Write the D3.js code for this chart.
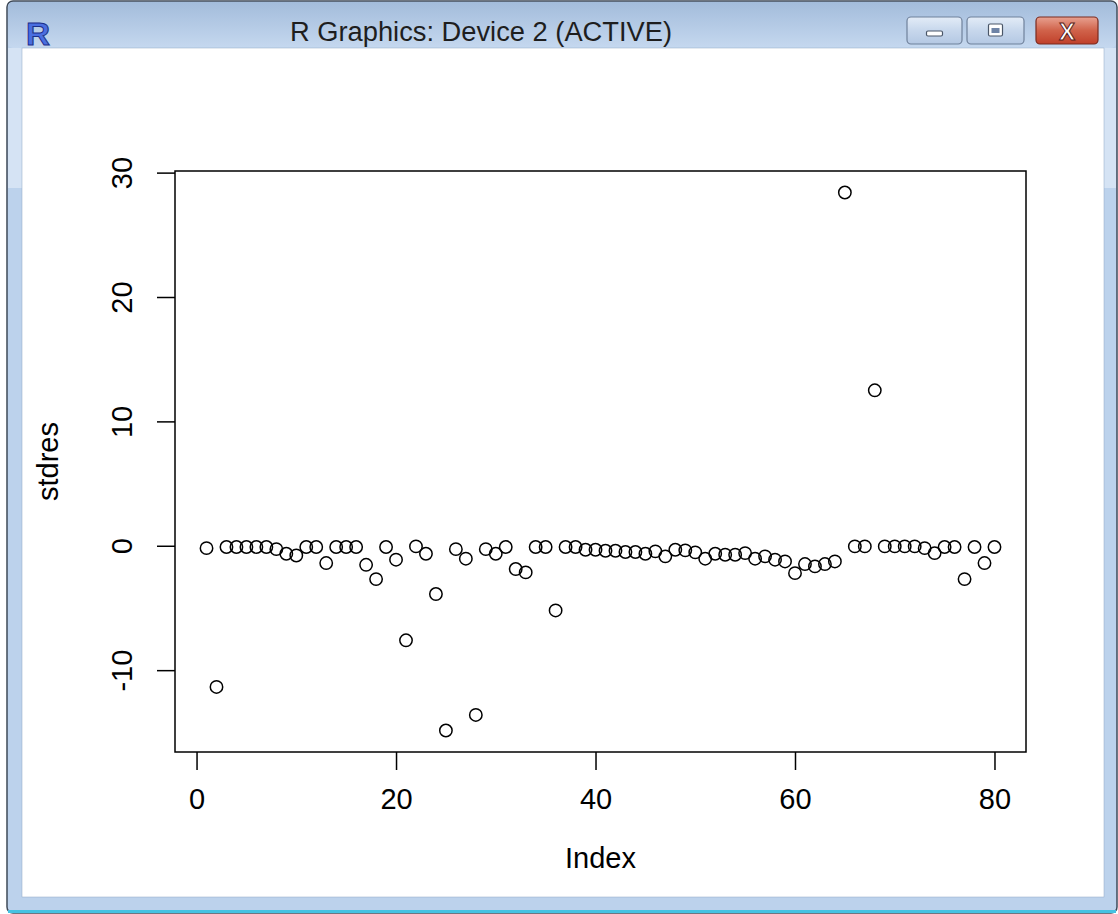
<!DOCTYPE html>
<meta charset="utf-8">
<style>
  body { margin: 0; background: #ffffff; }
  text { font-family: 'Liberation Sans', Arial, sans-serif; }
</style>
<script src="https://d3js.org/d3.v7.min.js"></script>
<body>
<div id="win"></div>
<script>

// observed standardized residuals, index 1..80
var index = d3.range(1, 81)
var stdres = [
  -0.19, -11.35, -0.1, -0.1, -0.1, -0.1, -0.1, -0.27, -0.64, -0.78,
  -0.1, -0.1, -1.39, -0.1, -0.1, -0.1, -1.53, -2.68, -0.1, -1.12,
  -7.6, -0.05, -0.64, -3.88, -14.85, -0.27, -1.04, -13.6, -0.27, -0.64,
  -0.1, -1.87, -2.14, -0.1, -0.1, -5.2, -0.1, -0.1, -0.32, -0.32,
  -0.4, -0.4, -0.5, -0.5, -0.64, -0.45, -0.85, -0.32, -0.37, -0.53,
  -1.04, -0.64, -0.72, -0.72, -0.59, -1.04, -0.85, -1.12, -1.26, -2.2,
  -1.47, -1.66, -1.47, -1.26, 28.4, -0.05, -0.05, 12.5, -0.05, -0.05,
  -0.05, -0.05, -0.19, -0.59, -0.1, -0.1, -2.68, -0.1, -1.39, -0.1
]
var xTicks = [0, 20, 40, 60, 80]
var yTicks = [-10, 0, 10, 20, 30]
var title = "R Graphics: Device 2 (ACTIVE)"

var W = 1118, H = 914
var box = {left: 175, right: 1026, top: 171, bottom: 752}

// R style 4% extension of the data range
function pad(ext) {
  var d = (ext[1] - ext[0]) * 0.04
  return [ext[0] - d, ext[1] + d]
}

var svg = d3.select("#win").append("svg")
    .attr("width", W)
    .attr("height", H)

var defs = svg.append("defs")
var tg = defs.append("linearGradient").attr("id", "titleGrad")
    .attr("x1", 0).attr("y1", 0).attr("x2", 0).attr("y2", 1)
tg.append("stop").attr("offset", "0%").attr("stop-color", "#a3bcdb")
tg.append("stop").attr("offset", "100%").attr("stop-color", "#c5d8ef")

var bg = defs.append("linearGradient").attr("id", "btnGrad")
    .attr("x1", 0).attr("y1", 0).attr("x2", 0).attr("y2", 1)
bg.append("stop").attr("offset", "0%").attr("stop-color", "#e3ecf7")
bg.append("stop").attr("offset", "50%").attr("stop-color", "#c7d7ec")
bg.append("stop").attr("offset", "100%").attr("stop-color", "#b4c8e3")

var cg = defs.append("linearGradient").attr("id", "closeGrad")
    .attr("x1", 0).attr("y1", 0).attr("x2", 0).attr("y2", 1)
cg.append("stop").attr("offset", "0%").attr("stop-color", "#e8a190")
cg.append("stop").attr("offset", "50%").attr("stop-color", "#d0624a")
cg.append("stop").attr("offset", "100%").attr("stop-color", "#c0402a")

// window frame
svg.append("rect")
    .attr("x", 7).attr("y", 1)
    .attr("width", 1110).attr("height", 912)
    .attr("rx", 6)
    .attr("fill", "#bcd2ec")
    .attr("stroke", "#3f4a58")
    .attr("stroke-width", 1.5)

svg.append("rect")
    .attr("x", 8).attr("y", 2)
    .attr("width", 1108).attr("height", 46)
    .attr("rx", 5)
    .attr("fill", "url(#titleGrad)")

// lighter upper part of the side strips
svg.append("rect").attr("x", 8).attr("y", 48).attr("width", 14).attr("height", 140).attr("fill", "#d5e3f4")
svg.append("rect").attr("x", 1104).attr("y", 48).attr("width", 12).attr("height", 140).attr("fill", "#d5e3f4")

svg.append("rect")
    .attr("x", 8).attr("y", 910)
    .attr("width", 1108).attr("height", 3)
    .attr("fill", "#45c2e2")

// client area
svg.append("rect")
    .attr("x", 22).attr("y", 48)
    .attr("width", 1082).attr("height", 849)
    .attr("fill", "#ffffff")
    .attr("stroke", "#8ea6c4")
    .attr("stroke-width", 0.5)

// R icon
svg.append("text")
    .attr("x", 26).attr("y", 45)
    .attr("font-size", 32)
    .attr("font-weight", "bold")
    .attr("fill", "#4a6ee0")
    .attr("stroke", "#1b2f8a")
    .attr("stroke-width", 1)
    .attr("textLength", 24)
    .attr("lengthAdjust", "spacingAndGlyphs")
    .text("R")

svg.append("text")
    .attr("x", 290).attr("y", 41)
    .attr("font-size", 27)
    .attr("textLength", 382)
    .attr("lengthAdjust", "spacingAndGlyphs")
    .attr("fill", "#1e1e1e")
    .text(title)

// caption buttons
var btns = [
  {x: 907, w: 55, kind: "min"},
  {x: 967, w: 57, kind: "max"},
  {x: 1036, w: 62, kind: "close"}
]
btns.forEach(function(b) {
  svg.append("rect")
    .attr("x", b.x).attr("y", 17)
    .attr("width", b.w).attr("height", 27)
    .attr("rx", 4)
    .attr("fill", b.kind == "close" ? "url(#closeGrad)" : "url(#btnGrad)")
    .attr("stroke", b.kind == "close" ? "#7a2a1e" : "#6f819b")
    .attr("stroke-width", 1.2)
  var cx = b.x + b.w / 2
  if (b.kind == "min") {
    svg.append("rect").attr("x", cx - 8).attr("y", 31).attr("width", 16).attr("height", 5)
      .attr("rx", 1.5).attr("fill", "#ffffff").attr("stroke", "#4a5668").attr("stroke-width", 1.2)
  } else if (b.kind == "max") {
    svg.append("rect").attr("x", cx - 7).attr("y", 24).attr("width", 14).attr("height", 12)
      .attr("rx", 1.5).attr("fill", "#ffffff").attr("stroke", "#4a5668").attr("stroke-width", 1.2)
    svg.append("rect").attr("x", cx - 4).attr("y", 28).attr("width", 8).attr("height", 5)
      .attr("fill", "#6f84a6")
  } else {
    svg.append("text").attr("x", cx).attr("y", 40)
      .attr("text-anchor", "middle")
      .attr("font-size", 24).attr("font-weight", "bold")
      .attr("fill", "#ffffff").attr("stroke", "#5a2018").attr("stroke-width", 1)
      .text("X")
  }
})

// scales
var x = d3.scaleLinear()
    .domain(pad(d3.extent(index)))
    .range([box.left, box.right])

var y = d3.scaleLinear()
    .domain(pad(d3.extent(stdres)))
    .range([box.bottom, box.top])

var fmt = function(d) { return String(d) }

// x axis
var xAxis = svg.append("g")
    .attr("transform", "translate(0," + box.bottom + ")")
    .call(d3.axisBottom(x).tickValues(xTicks).tickFormat(fmt).tickSize(18).tickPadding(18))
xAxis.select(".domain").remove()
xAxis.selectAll(".tick line").attr("stroke", "#000").attr("stroke-width", 1.5)
xAxis.selectAll(".tick text")
    .attr("font-size", 29)
    .attr("font-family", "'Liberation Sans', Arial, sans-serif")
    .attr("fill", "#000")

// y axis with labels parallel to axis
var yAxis = svg.append("g")
    .attr("transform", "translate(" + box.left + ",0)")
    .call(d3.axisLeft(y).tickValues(yTicks).tickFormat(fmt).tickSize(18))
yAxis.select(".domain").remove()
yAxis.selectAll(".tick line").attr("stroke", "#000").attr("stroke-width", 1.5)
yAxis.selectAll(".tick text")
    .attr("x", null).attr("dy", null)
    .attr("font-size", 29)
    .attr("font-family", "'Liberation Sans', Arial, sans-serif")
    .attr("fill", "#000")
    .attr("text-anchor", "middle")
    .attr("transform", "translate(-43,0) rotate(-90)")

// plot box
svg.append("rect")
    .attr("x", box.left).attr("y", box.top)
    .attr("width", box.right - box.left)
    .attr("height", box.bottom - box.top)
    .attr("fill", "none")
    .attr("stroke", "#000")
    .attr("stroke-width", 1.5)

// points
svg.selectAll("circle.pt")
    .data(stdres)
    .enter()
    .append("circle")
    .attr("class", "pt")
    .attr("cx", function(d, i) { return x(index[i]) })
    .attr("cy", function(d) { return y(d) })
    .attr("r", 6.2)
    .attr("fill", "none")
    .attr("stroke", "#000")
    .attr("stroke-width", 1.5)

// axis titles
svg.append("text")
    .attr("x", (box.left + box.right) / 2)
    .attr("y", 868)
    .attr("text-anchor", "middle")
    .attr("font-size", 29)
    .text("Index")

svg.append("text")
    .attr("transform", "translate(58," + ((box.top + box.bottom) / 2) + ") rotate(-90)")
    .attr("text-anchor", "middle")
    .attr("font-size", 29)
    .text("stdres")

</script>
</body>
